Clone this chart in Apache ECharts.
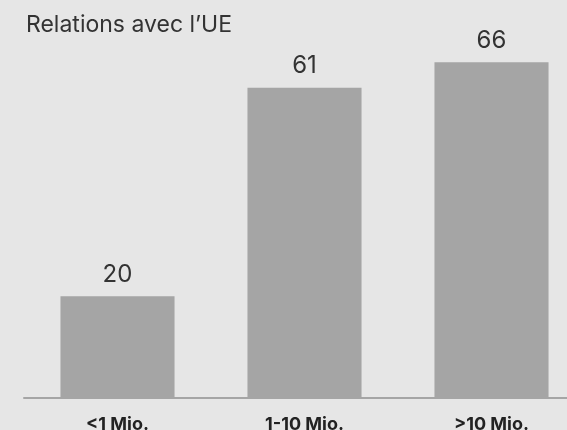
<!DOCTYPE html>
<html><head><meta charset="utf-8">
<script src="https://cdn.jsdelivr.net/npm/echarts@6/dist/echarts.min.js"></script>
<style>html,body{margin:0;padding:0;background:#e6e6e6}#c{width:567px;height:430px}</style>
</head><body><div id="c"></div>
<script>
const titleText = "Relations avec l\u2019UE";
const categories = ["<1 Mio.", "1-10 Mio.", ">10 Mio."];
const values = [20, 61, 66];

const chart = echarts.init(document.getElementById('c'), null, {renderer:'canvas'});
chart.setOption({
  backgroundColor: '#e6e6e6',
  animation: false,
  title: {
    text: titleText, left: 21, top: 9,
    textStyle: {fontFamily: 'Inter', fontWeight: 'normal', fontSize: 23, color: '#333'}
  },
  grid: {left: 24, width: 561, top: 42, bottom: 32, containLabel: false, outerBoundsMode: 'none'},
  xAxis: {
    type: 'category', data: categories,
    axisLine: {lineStyle: {color: '#a5a5a5', width: 2}},
    axisTick: {show: false},
    axisLabel: {margin: 18, fontFamily: 'Inter', fontWeight: 'bold', fontSize: 18, color: '#222'}
  },
  yAxis: {type: 'value', min: 0, max: 70, show: false, splitLine: {show: false}},
  series: [{
    type: 'bar', data: values, barCategoryGap: '39%',
    itemStyle: {color: '#a5a5a5'},
    label: {show: true, position: 'top', distance: 10, fontFamily: 'Inter', fontSize: 24, color: '#333'}
  }]
});
</script></body></html>
